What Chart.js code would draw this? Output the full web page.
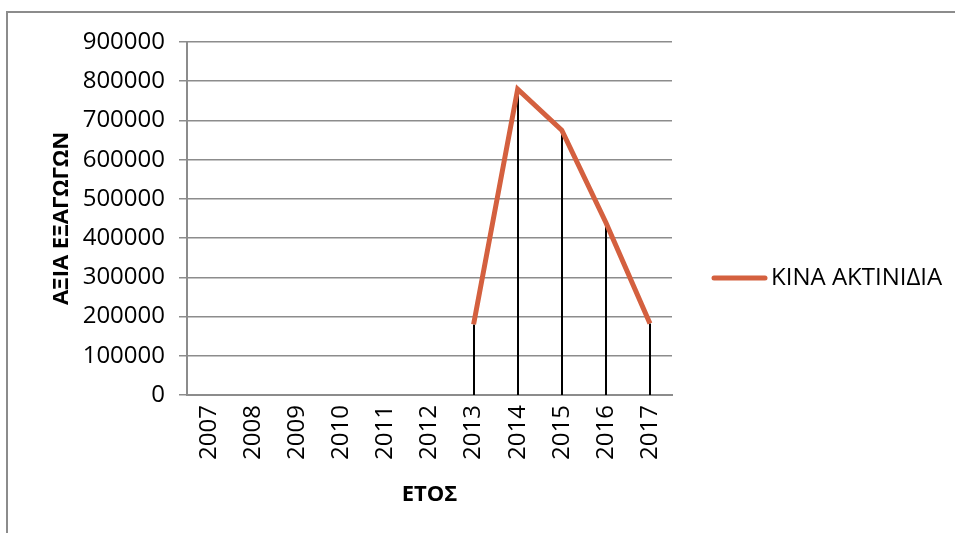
<!DOCTYPE html>
<html>
<head>
<meta charset="utf-8">
<script src="https://cdn.jsdelivr.net/npm/chart.js@4/dist/chart.umd.min.js"></script>
<style>
  html, body { margin: 0; padding: 0; background: #fff; }
  #wrap { position: relative; width: 955px; height: 533px; }
  #frame { position: absolute; left: 6px; top: 11px; width: 960px; height: 540px;
           border-left: 2px solid #8c8c8c; border-top: 2px solid #8c8c8c; }
  canvas { position: absolute; left: 0; top: 0; }
</style>
</head>
<body>
<div id="wrap">
  <div id="frame"></div>
  <canvas id="chart-1" width="955" height="533"></canvas>
</div>
<script>
// data
const years = ["2007", "2008", "2009", "2010", "2011", "2012", "2013", "2014", "2015", "2016", "2017"];
const kiwiExports = [null, null, null, null, null, null, 180000, 780000, 675000, 440000, 182000];
const seriesName = "ΚΙΝΑ ΑΚΤΙΝΙΔΙΑ";
const yTicks = [0, 100000, 200000, 300000, 400000, 500000, 600000, 700000, 800000, 900000];

const lineColor = "#d4603f";
const gridColor = "#8c8c8c";
const fontFamily = "'Open Sans', 'Liberation Sans', sans-serif";

// black drop lines from each point down to the axis
const dropLines = {
  id: "dropLines",
  beforeDatasetsDraw(chart) {
    const ctx = chart.ctx;
    const x = chart.scales.x;
    const y = chart.scales.y;
    ctx.save();
    ctx.strokeStyle = "#000";
    ctx.lineWidth = 2;
    kiwiExports.forEach((v, i) => {
      if (v == null) return;
      const px = Math.round(x.getPixelForValue(i));
      ctx.beginPath();
      ctx.moveTo(px, y.getPixelForValue(v));
      ctx.lineTo(px, y.getPixelForValue(0));
      ctx.stroke();
    });
    ctx.restore();
  },
};

// legend on the right, centred on the whole frame
const sideLegend = {
  id: "sideLegend",
  afterDraw(chart) {
    const ctx = chart.ctx;
    const ly = 278;
    ctx.save();
    ctx.strokeStyle = lineColor;
    ctx.lineWidth = 5;
    ctx.lineCap = "round";
    ctx.beginPath();
    ctx.moveTo(714, ly);
    ctx.lineTo(765, ly);
    ctx.stroke();
    ctx.fillStyle = "#000";
    ctx.font = "24px " + fontFamily;
    ctx.textBaseline = "middle";
    ctx.fillText(seriesName, 771, ly);
    ctx.restore();
  },
};

const ctx = document.getElementById("chart-1").getContext("2d");
const myChart = new Chart(ctx, {
  type: "line",
  data: {
    labels: years,
    datasets: [
      {
        label: seriesName,
        data: kiwiExports,
        borderColor: lineColor,
        backgroundColor: lineColor,
        borderWidth: 5,
        pointRadius: 0,
        tension: 0,
        spanGaps: false,
      },
    ],
  },
  options: {
    responsive: false,
    animation: false,
    layout: { padding: { left: 45, right: 283, top: 42, bottom: 10 } },
    plugins: {
      legend: { display: false },
      tooltip: { enabled: false },
    },
    scales: {
      x: {
        offset: true,
        afterFit(scale) {
          scale.height = 128;
        },
        grid: { display: false, drawTicks: false },
        border: { color: gridColor, width: 2 },
        ticks: {
          color: "#000",
          font: { family: fontFamily, size: 24 },
          maxRotation: 90,
          minRotation: 90,
          padding: 10,
          autoSkip: false,
        },
        title: {
          display: true,
          text: "ΕΤΟΣ",
          color: "#000",
          font: { family: fontFamily, size: 22, weight: "bold" },
          padding: { top: 4, bottom: 15 },
        },
      },
      y: {
        min: 0,
        max: 900000,
        afterFit(scale) {
          scale.width = 142;
        },
        afterBuildTicks(scale) {
          scale.ticks = yTicks.map((v) => ({ value: v }));
        },
        grid: { color: gridColor, lineWidth: 1.5, tickLength: 8 },
        border: { color: gridColor, width: 2 },
        ticks: {
          color: "#000",
          font: { family: fontFamily, size: 24 },
          padding: 14,
          callback: (v) => String(v),
        },
        title: {
          display: true,
          text: "ΑΞΙΑ ΕΞΑΓΩΓΩΝ",
          color: "#000",
          font: { family: fontFamily, size: 22, weight: "bold" },
          padding: { top: 4, bottom: 4 },
        },
      },
    },
  },
  plugins: [dropLines, sideLegend],
});
</script>
</body>
</html>
